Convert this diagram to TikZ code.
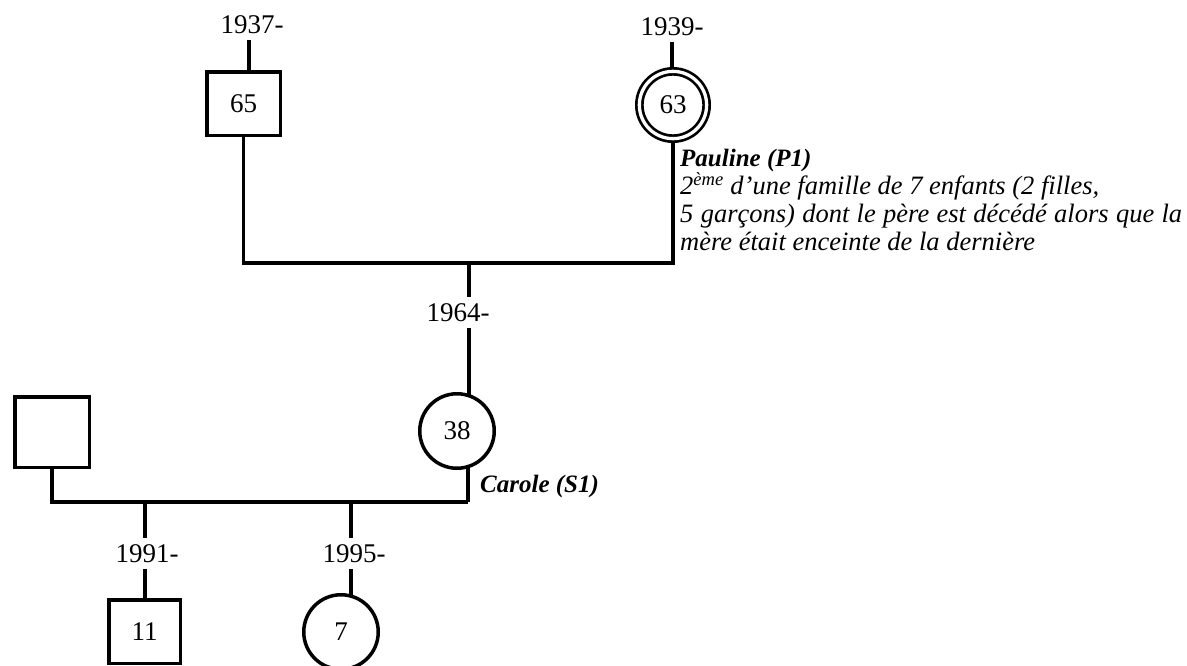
\documentclass[tikz,border=0pt]{standalone}
\usepackage{fontspec}
\setmainfont{Liberation Serif}
\begin{document}
\begin{tikzpicture}[x=1pt,y=-1pt,
  lw/.style={line width=3.5pt},
  male/.style={draw,lw,rectangle,inner sep=0pt,font=\fontsize{27}{29}\selectfont},
  female/.style={draw,lw,circle,inner sep=0pt,minimum size=74.5pt,font=\fontsize{27}{29}\selectfont},
  yr/.style={inner xsep=0pt,inner ysep=6.5pt,text height=18.2pt,text depth=0pt,font=\fontsize{27}{29}\selectfont},
  lab/.style={inner sep=0pt,font=\fontsize{26.5}{28}\selectfont\itshape,align=left},
  conn/.style={lw},
  ext/.style={lw,shorten >=-3pt}
]
\useasboundingbox (0,0) rectangle (1187,665);
\clip (0,0) rectangle (1187,665);

% generation 1
\node[yr] (t1937) at (252,24) {1937-};
\node[male,minimum width=73.5pt,minimum height=63.5pt] (m65) at (243.5,103.5) {65};
\node[yr] (t1939) at (672,26.5) {1939-};
\node[draw,circle,line width=2.7pt,double,double distance=3.3pt,minimum size=67.3pt,inner sep=0pt,outer sep=4.5pt,font=\fontsize{27}{29}\selectfont] (f63) at (673,105) {63};
\node[lab,anchor=north west] (pauline) at (680,149) {{\fontsize{25}{28}\selectfont\bfseries Pauline (P1)}\\
2\textsuperscript{ème} d'une famille de 7 enfants (2 filles,\\
\makebox[502pt][s]{5 garçons) dont le père est décédé alors que la}\\
mère était enceinte de la dernière};

\coordinate (l1937) at (249,0);
\coordinate (l1939) at (672,0);
\coordinate (mate1) at (469,263);
\draw[conn] (l1937 |- t1937.south) -- (l1937 |- m65.north);
\draw[conn] (l1939 |- t1939.south) -- (l1939 |- f63.north);
\draw[conn] (m65.south) |- (mate1) -| (f63.south);

% generation 2
\node[yr] (t1964) at (458,312.5) {1964-};
\node[female] (f38) at (457,431) {38};
\node[male,minimum width=74.5pt,minimum height=70.5pt] (sqL) at (52,432) {};
\node[lab,anchor=base west,font=\fontsize{25}{28}\selectfont\itshape\bfseries] (carole) at (480,492) {Carole (S1)};

\draw[conn] (mate1) -- (mate1 |- t1964.north);
\draw[ext] (mate1 |- t1964.south) -- (mate1 |- f38.north);

\coordinate (mate2) at (468,502);
\coordinate (c1) at (145,502);
\coordinate (c2) at (351,502);
\draw[conn] (sqL.south) |- (mate2);
\draw[ext] (mate2) -- (mate2 |- f38.south);

% generation 3
\node[yr] (t1991) at (147,553.5) {1991-};
\node[yr] (t1995) at (354,553.5) {1995-};
\node[male,minimum width=71.5pt,minimum height=63.5pt] (m11) at (144.5,631.5) {11};
\node[female] (f7) at (341,632) {7};

\draw[conn] (c1) -- (c1 |- t1991.north);
\draw[conn] (c1 |- t1991.south) -- (c1 |- m11.north);
\draw[conn] (c2) -- (c2 |- t1995.north);
\draw[ext] (c2 |- t1995.south) -- (c2 |- f7.north);
\end{tikzpicture}
\end{document}
